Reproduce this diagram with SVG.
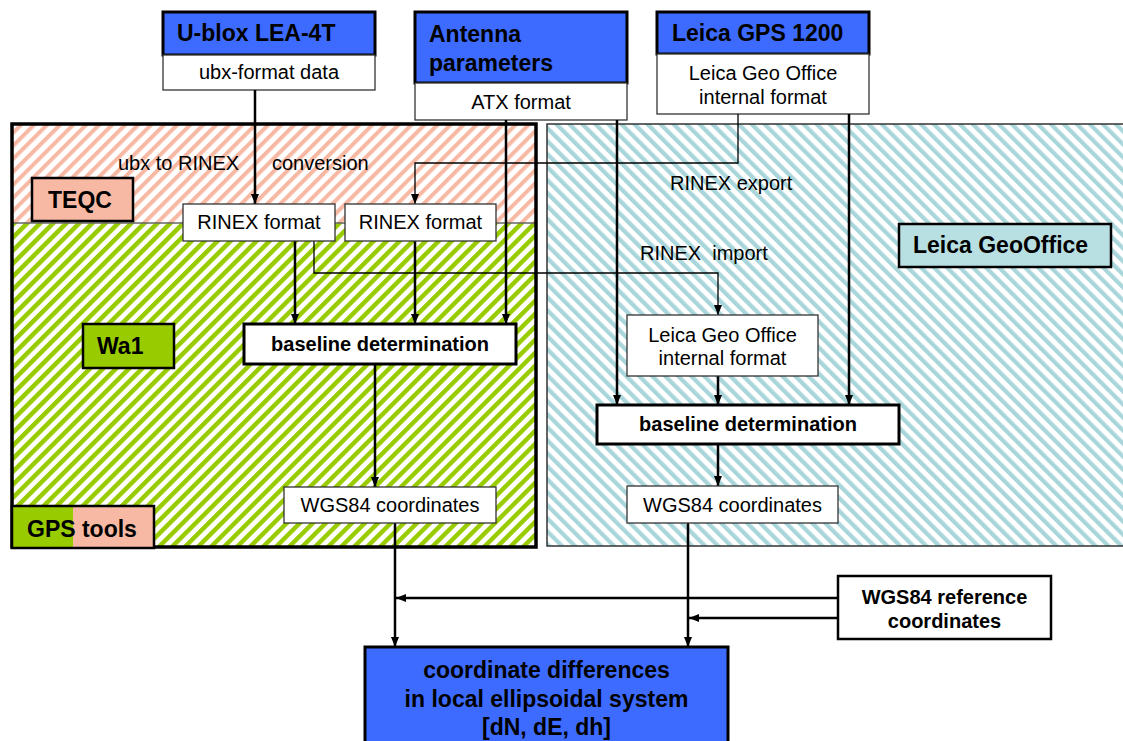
<svg xmlns="http://www.w3.org/2000/svg" width="1123" height="741" viewBox="0 0 1123 741">
<style>
text{font-family:"Liberation Sans",Arial,sans-serif;fill:#000}
.r{font-size:20px}
.b{font-weight:bold;font-size:20px}
.h{font-weight:bold;font-size:23px}
.m{text-anchor:middle}
.box{fill:#fff;stroke:#333;stroke-width:1.3}
.tbox{fill:#fff;stroke:#000;stroke-width:3}
.blue{fill:#3d6bff;stroke:#000;stroke-width:3}
.thick{fill:none;stroke:#000;stroke-width:2.5}
.thin{fill:none;stroke:#000;stroke-width:1.3}
</style>
<defs>
<pattern id="pink" patternUnits="userSpaceOnUse" width="9.2" height="9.2" patternTransform="rotate(45)">
<rect width="9.2" height="9.2" fill="#fff"/><rect width="4" height="9.2" fill="#f7b9a3"/>
</pattern>
<pattern id="green" patternUnits="userSpaceOnUse" width="9.2" height="9.2" patternTransform="rotate(45)">
<rect width="9.2" height="9.2" fill="#fff"/><rect width="4.5" height="9.2" fill="#99cc00"/>
</pattern>
<pattern id="cyan" patternUnits="userSpaceOnUse" width="9.2" height="9.2" patternTransform="rotate(-45)">
<rect width="9.2" height="9.2" fill="#fff"/><rect width="4.2" height="9.2" fill="#a9d6da"/>
</pattern>
<marker id="ah" markerWidth="10" markerHeight="8" refX="10" refY="4" orient="auto" markerUnits="userSpaceOnUse">
<path d="M0,0 L10,4 L0,8 Z" fill="#000"/>
</marker>
</defs>

<g id="leica-region">
<rect x="547" y="124" width="580" height="422" fill="url(#cyan)" stroke="#333" stroke-width="1.5"/>
</g>
<g id="gps-tools-region">
<rect x="12" y="124" width="524" height="99" fill="url(#pink)"/>
<rect x="12" y="223" width="524" height="324" fill="url(#green)"/>
<line x1="12" y1="223" x2="536" y2="223" stroke="#666" stroke-width="1.3"/>
<rect x="12" y="124" width="524" height="423" fill="none" stroke="#000" stroke-width="3.5"/>
</g>

<g id="ublox">
<rect x="163" y="12" width="212" height="43" class="blue"/>
<rect x="163" y="55" width="212" height="35" class="box"/>
<text x="177" y="41" class="h">U-blox LEA-4T</text>
<text x="269" y="79" class="r m">ubx-format data</text>
</g>
<g id="antenna">
<rect x="415" y="12" width="212" height="71" class="blue"/>
<rect x="415" y="83" width="212" height="37" class="box"/>
<text x="429" y="42" class="h">Antenna</text>
<text x="429" y="71" class="h">parameters</text>
<text x="521" y="109" class="r m">ATX format</text>
</g>
<g id="leica-gps">
<rect x="657" y="12" width="212" height="42" class="blue"/>
<rect x="657" y="54" width="212" height="60" class="box"/>
<text x="672" y="41" class="h">Leica GPS 1200</text>
<text x="763" y="80" class="r m">Leica Geo Office</text>
<text x="763" y="104" class="r m">internal format</text>
</g>

<g id="teqc-label">
<rect x="32" y="178" width="101" height="43" fill="#f7b9a3" stroke="#000" stroke-width="2.5"/>
<text x="48" y="208" class="h">TEQC</text>
</g>
<g id="wa1-label">
<rect x="83" y="324" width="91" height="44" fill="#99cc00" stroke="#000" stroke-width="2.5"/>
<text x="97" y="354" class="h">Wa1</text>
</g>
<g id="gpstools-label">
<rect x="12" y="506" width="61" height="42" fill="#99cc00"/>
<rect x="73" y="506" width="81" height="42" fill="#f7b9a3"/>
<rect x="12" y="506" width="142" height="42" fill="none" stroke="#000" stroke-width="2.5"/>
<text x="27" y="537" class="h">GPS tools</text>
</g>
<g id="leicageooffice-label">
<rect x="899" y="224" width="212" height="43" fill="#b8dfe2" stroke="#000" stroke-width="2.5"/>
<text x="913" y="253" class="h">Leica GeoOffice</text>
</g>

<g id="conn-labels">
<text x="118" y="170" class="r">ubx to RINEX</text>
<text x="272" y="170" class="r">conversion</text>
<text x="670" y="190" class="r">RINEX export</text>
<text x="640" y="260" class="r" xml:space="preserve">RINEX  import</text>
</g>

<g id="connectors">
<path d="M255,90 V204" class="thick" marker-end="url(#ah)"/>
<path d="M738,114 V163 H415 V204" class="thin" marker-end="url(#ah)"/>
<path d="M506,120 V324" class="thick" marker-end="url(#ah)"/>
<path d="M617,120 V405" class="thick" marker-end="url(#ah)"/>
<path d="M849,114 V405" class="thick" marker-end="url(#ah)"/>
<path d="M295,241 V324" class="thick" marker-end="url(#ah)"/>
<path d="M415,241 V324" class="thick" marker-end="url(#ah)"/>
<path d="M314,241 V273 H718 V315" class="thin" marker-end="url(#ah)"/>
<path d="M718,376 V405" class="thick" marker-end="url(#ah)"/>
<path d="M375,364 V487" class="thick" marker-end="url(#ah)"/>
<path d="M718,444 V486" class="thick" marker-end="url(#ah)"/>
<path d="M395,523 V647" class="thick" marker-end="url(#ah)"/>
<path d="M688,523 V647" class="thick" marker-end="url(#ah)"/>
<path d="M838,598 H396" class="thick" marker-end="url(#ah)"/>
<path d="M838,618 H689" class="thick" marker-end="url(#ah)"/>
</g>

<g id="rinex1">
<rect x="183" y="204" width="152" height="37" class="box"/>
<text x="259" y="229" class="r m">RINEX format</text>
</g>
<g id="rinex2">
<rect x="345" y="204" width="151" height="37" class="box"/>
<text x="420.5" y="229" class="r m">RINEX format</text>
</g>
<g id="baseline-gps">
<rect x="244" y="324" width="272" height="40" class="tbox"/>
<text x="380" y="351" class="b m">baseline determination</text>
</g>
<g id="wgs84-gps">
<rect x="284" y="487" width="212" height="36" class="box"/>
<text x="390" y="512" class="r m">WGS84 coordinates</text>
</g>
<g id="leica-internal">
<rect x="627" y="315" width="191" height="61" class="box"/>
<text x="722.5" y="342" class="r m">Leica Geo Office</text>
<text x="722.5" y="365" class="r m">internal format</text>
</g>
<g id="baseline-leica">
<rect x="597" y="405" width="302" height="39" class="tbox"/>
<text x="748" y="431" class="b m">baseline determination</text>
</g>
<g id="wgs84-leica">
<rect x="627" y="486" width="211" height="37" class="box"/>
<text x="732.5" y="512" class="r m">WGS84 coordinates</text>
</g>
<g id="wgs84-ref">
<rect x="838" y="576" width="213" height="63" fill="#fff" stroke="#000" stroke-width="2.5"/>
<text x="944.5" y="604" class="b m">WGS84 reference</text>
<text x="944.5" y="628" class="b m">coordinates</text>
</g>
<g id="coord-diff">
<rect x="365" y="647" width="363" height="100" class="blue"/>
<text x="546.5" y="678" class="h m">coordinate differences</text>
<text x="546.5" y="707" class="h m">in local ellipsoidal system</text>
<text x="546.5" y="735" class="h m">[dN, dE, dh]</text>
</g>
</svg>
